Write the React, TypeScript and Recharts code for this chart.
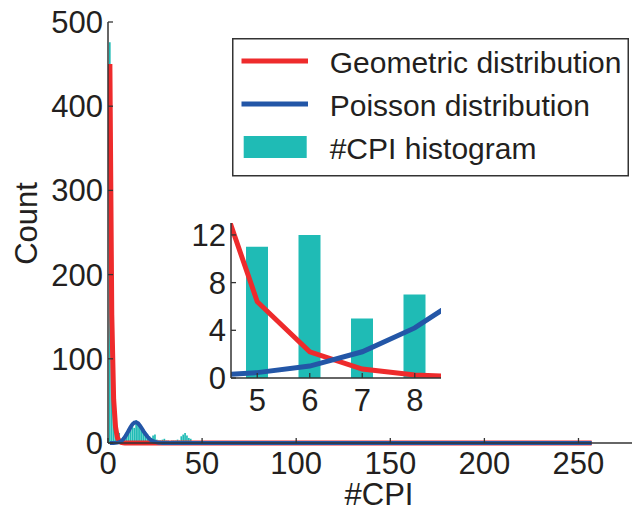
import React from 'react';
import { ComposedChart, Bar, Line, XAxis, YAxis, Legend } from 'recharts';

// ---------- data ----------
const histX = [1, 2, 3, 4, 5, 6, 7, 8, 9, 10, 11, 12, 13, 14, 15, 16, 17, 18, 19, 20, 21, 22, 23, 24, 25, 26, 27, 28, 29, 30, 31, 32, 33, 34, 35, 36, 37, 38, 39, 40, 41, 42, 43, 44, 45, 46, 47, 60, 68];
const histCount = [476, 120, 38, 16, 11, 12, 5, 7, 10, 13, 17, 19, 24, 18, 27, 25, 21, 19, 15, 13, 10, 8, 6, 9, 10, 4, 3, 3, 4, 5, 3, 3, 2, 3, 3, 3, 4, 3, 8, 10, 12, 9, 6, 5, 2, 1, 1, 1, 1];

const geoX = [1, 2, 3, 4, 5, 6, 7, 8, 9, 10, 11, 12, 257];
const geoY = [450, 153, 52, 19.2, 6.4, 2.2, 0.75, 0.25, 0.09, 0.03, 0.01, 0, 0];

const poiX = [1, 2, 3, 4, 5, 6, 7, 8, 9, 10, 11, 12, 13, 14, 15, 16, 17, 18, 19, 20, 21, 22, 23, 24, 25, 26, 27, 28, 29, 30, 31, 32, 257];
const poiY = [0.001, 0.01, 0.04, 0.16, 0.45, 1.0, 2.2, 4.2, 7.1, 10.8, 14.9, 19.0, 22.3, 24.3, 24.6, 23.3, 20.6, 17.2, 13.6, 10.3, 7.4, 5.1, 3.3, 2.1, 1.3, 0.75, 0.42, 0.22, 0.11, 0.05, 0.02, 0.01, 0];

const mainXTicks = [0, 50, 100, 150, 200, 250];
const mainYTicks = [0, 100, 200, 300, 400, 500];
const insetXTicks = [5, 6, 7, 8];
const insetYTicks = [0, 4, 8, 12];

const legendNames = ['Geometric distribution', 'Poisson distribution', '#CPI histogram'];

// ---------- styles ----------
const RED = '#EE2B2C';
const BLUE = '#2356A7';
const TEAL = '#1FBBB5';
const INK = '#231F20';
const SPINE = '#333333';
const FONT = '"Liberation Sans", Arial, Helvetica, sans-serif';
const FS = 31;
const LFS = 30;

// merged table
const allX = Array.from(new Set([...histX, ...geoX, ...poiX])).sort((a, b) => a - b);
const table = allX.map((x) => {
  const row: any = { x };
  const hi = histX.indexOf(x);
  if (hi >= 0) row.count = histCount[hi];
  const gi = geoX.indexOf(x);
  if (gi >= 0) row.geo = geoY[gi];
  const pi = poiX.indexOf(x);
  if (pi >= 0) row.poi = poiY[pi];
  return row;
});
const insetTable = table.filter((r) => r.x >= 3 && r.x <= 10);

// ---------- tick renderers ----------
const BottomTick = (dy: number) => (props: any) => {
  const { x, y, payload } = props;
  return (
    <g>
      <line x1={x} x2={x} y1={y} y2={y - 5} stroke={SPINE} strokeWidth={1.3} />
      <text x={x} y={y + dy} textAnchor="middle" fontSize={FS} fontFamily={FONT} fill={INK}>
        {payload.value}
      </text>
    </g>
  );
};

const TopTick = (props: any) => {
  const { x, y } = props;
  return <line x1={x} x2={x} y1={y} y2={y + 5} stroke={SPINE} strokeWidth={1.3} />;
};

const LeftTick = (props: any) => {
  const { x, y, payload } = props;
  return (
    <g>
      <line x1={x} x2={x + 5} y1={y} y2={y} stroke={SPINE} strokeWidth={1.3} />
      <text x={x - 5} y={y + 11} textAnchor="end" fontSize={FS} fontFamily={FONT} fill={INK}>
        {payload.value}
      </text>
    </g>
  );
};

const RightTick = (props: any) => {
  const { x, y } = props;
  return <line x1={x} x2={x - 5} y1={y} y2={y} stroke={SPINE} strokeWidth={1.3} />;
};

const LegendBox = () => {
  const rowsY = [35, 78, 121];
  return (
    <svg width={397} height={139} style={{ display: 'block' }}>
      <rect x={0.75} y={0.75} width={395.5} height={137} fill="#fff" stroke={SPINE} strokeWidth={1.5} />
      <line x1={9.5} x2={76} y1={23} y2={23} stroke={RED} strokeWidth={5} />
      <line x1={9.5} x2={76} y1={66} y2={66} stroke={BLUE} strokeWidth={5} />
      <rect x={11.7} y={98} width={63} height={22} fill={TEAL} />
      {legendNames.map((n, i) => (
        <text key={n} x={97.7} y={rowsY[i]} fontSize={LFS} fontFamily={FONT} fill={INK}>
          {n}
        </text>
      ))}
    </svg>
  );
};

const axisLine = { stroke: SPINE, strokeWidth: 1.5 };

export default function App() {
  return (
    <div style={{ position: 'relative', width: 632, height: 506, overflow: 'hidden', background: '#fff' }}>
      <ComposedChart
        width={660}
        height={506}
        data={table}
        margin={{ top: 14, right: 18, bottom: 0, left: 0 }}
        barGap={0}
        barCategoryGap={0}
      >
        <XAxis
          xAxisId="b"
          dataKey="x"
          type="number"
          domain={[0, 288]}
          ticks={mainXTicks}
          interval={0}
          allowDataOverflow
          height={71}
          tickSize={0}
          tickMargin={0}
          tick={BottomTick(31)}
          axisLine={axisLine}
          label={{
            content: (p: any) => {
              const vb = p.viewBox;
              return (
                <text x={vb.x + vb.width / 2} y={vb.y + 62} textAnchor="middle" fontSize={FS} fontFamily={FONT} fill={INK}>
                  #CPI
                </text>
              );
            },
          }}
        />
        <XAxis
          xAxisId="t"
          dataKey="x"
          type="number"
          orientation="top"
          domain={[0, 288]}
          ticks={mainXTicks.slice(1)}
          interval={0}
          allowDataOverflow
          height={0}
          tickSize={0}
          tickMargin={0}
          tick={TopTick}
          axisLine={axisLine}
        />
        <YAxis
          yAxisId="l"
          type="number"
          domain={[0, 500]}
          ticks={mainYTicks}
          interval={0}
          width={100}
          tickSize={0}
          tickMargin={0}
          tick={LeftTick}
          axisLine={axisLine}
          label={{
            content: (p: any) => {
              const vb = p.viewBox;
              const cx = 29;
              const cy = vb.y + vb.height / 2 - 9;
              return (
                <text x={cx} y={cy} transform={`rotate(-90 ${cx} ${cy})`} textAnchor="middle" fontSize={FS} fontFamily={FONT} fill={INK}>
                  Count
                </text>
              );
            },
          }}
        />
        <Bar xAxisId="b" yAxisId="l" dataKey="count" name="#CPI histogram" fill={TEAL} barSize={2} isAnimationActive={false} />
        <Line xAxisId="b" yAxisId="l" dataKey="geo" name="Geometric distribution" stroke={RED} strokeWidth={5} dot={false} activeDot={false} connectNulls type="linear" isAnimationActive={false} />
        <Line xAxisId="b" yAxisId="l" dataKey="poi" name="Poisson distribution" stroke={BLUE} strokeWidth={4} dot={false} activeDot={false} connectNulls type="linear" isAnimationActive={false} />
        <Line xAxisId="t" yAxisId="l" dataKey="poi" stroke="none" dot={false} activeDot={false} legendType="none" connectNulls isAnimationActive={false} />
        <Legend
          layout="horizontal"
          verticalAlign="middle"
          align="center"
          content={() => <LegendBox />}
          wrapperStyle={{ left: 224.3, top: 30.3, width: 397, height: 139 }}
        />
      </ComposedChart>

      <div style={{ position: 'absolute', left: 173, top: 204 }}>
        <ComposedChart
          width={270}
          height={211}
          data={insetTable}
          margin={{ top: 11, right: 10, bottom: 0, left: 0 }}
        >
          <XAxis
            xAxisId="b"
            dataKey="x"
            type="number"
            domain={[4.5, 8.5]}
            ticks={insetXTicks}
            interval={0}
            allowDataOverflow
            height={45}
            tickSize={0}
            tickMargin={0}
            tick={BottomTick(33)}
            axisLine={axisLine}
          />
          <XAxis
            xAxisId="t"
            dataKey="x"
            type="number"
            orientation="top"
            domain={[4.5, 8.5]}
            ticks={insetXTicks}
            interval={0}
            allowDataOverflow
            height={0}
            tickSize={0}
            tickMargin={0}
            tick={TopTick}
            axisLine={axisLine}
          />
          <YAxis
            yAxisId="l"
            type="number"
            domain={[0, 13]}
            ticks={insetYTicks}
            interval={0}
            allowDataOverflow
            width={50}
            tickSize={0}
            tickMargin={0}
            tick={LeftTick}
            axisLine={axisLine}
          />
          <YAxis
            yAxisId="r"
            type="number"
            orientation="right"
            domain={[0, 13]}
            ticks={insetYTicks.slice(1)}
            interval={0}
            allowDataOverflow
            width={0}
            tickSize={0}
            tickMargin={0}
            tick={RightTick}
            axisLine={axisLine}
          />
          <Bar xAxisId="b" yAxisId="l" dataKey="count" fill={TEAL} barSize={22} isAnimationActive={false} />
          <Line xAxisId="b" yAxisId="l" dataKey="geo" stroke={RED} strokeWidth={5} dot={false} activeDot={false} connectNulls type="linear" isAnimationActive={false} />
          <Line xAxisId="b" yAxisId="l" dataKey="poi" stroke={BLUE} strokeWidth={5} dot={false} activeDot={false} connectNulls type="linear" isAnimationActive={false} />
          <Line xAxisId="t" yAxisId="r" dataKey="poi" stroke="none" dot={false} activeDot={false} legendType="none" connectNulls isAnimationActive={false} />
        </ComposedChart>
      </div>
    </div>
  );
}
